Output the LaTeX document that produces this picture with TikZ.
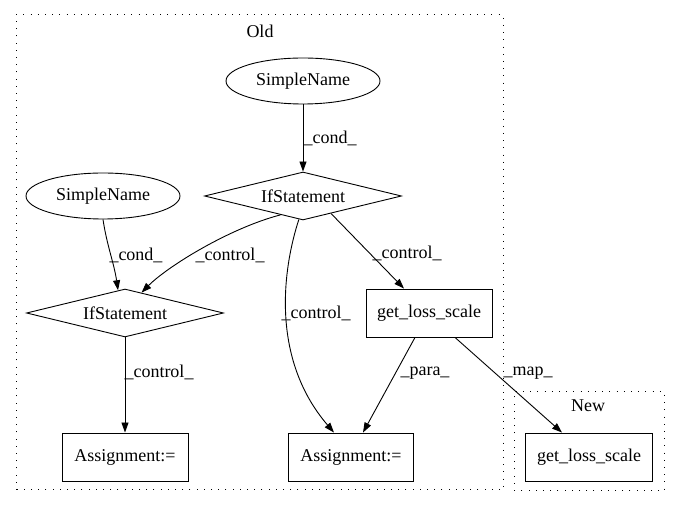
\documentclass[tikz,border=0pt]{standalone}
\usepackage{fontspec}
\setmainfont{Liberation Serif}
\usetikzlibrary{shapes.geometric,arrows.meta,calc}
\tikzset{
  every node/.style={font=\fontsize{18}{20}\selectfont},
  nm/.style={draw,ellipse,line width=0.9pt,minimum width=154pt,minimum height=46pt,inner sep=0pt},
  ifst/.style={draw,diamond,aspect=4.1,line width=0.9pt,minimum width=197pt,minimum height=48pt,inner sep=0pt},
  box/.style={draw,rectangle,line width=0.9pt,minimum height=48pt,inner sep=0pt},
  lbl/.style={inner sep=1pt},
  frame/.style={line width=1pt,dash pattern=on 1pt off 6.2pt},
  edge/.style={line width=0.9pt,-{Triangle[length=10pt,width=7pt]}}
}
\begin{document}
\begin{tikzpicture}[x=1pt,y=1pt]
   \useasboundingbox (0,0) rectangle (680,508);
   \draw[frame] (16,18) rectangle (503,493);
   \draw[frame] (514,17) rectangle (664,116);
   \node (old) at (260,477) {Old};
   \node (new) at (588,102) {New};
   \node[nm] (sn1) at (303,427) {SimpleName};
   \node[ifst] (if1) at (303,312) {IfStatement};
   \node[nm] (sn2) at (103,312) {SimpleName};
   \node[ifst] (if2) at (125,195) {IfStatement};
   \node[box,minimum width=126pt] (as1) at (125,51) {Assignment:=};
   \node[box,minimum width=125pt] (as2) at (351,51) {Assignment:=};
   \node[box,minimum width=126pt] (gls1) at (429,195) {get\_loss\_scale};
   \node[box,minimum width=127pt] (gls2) at (589,51) {get\_loss\_scale};
   \draw[edge] (sn1) -- (if1);
   \draw[edge] (sn2.south) .. controls (107,262) and (114,245) .. (if2.107);
   \draw[edge] (if1.220) .. controls (230,280) and (168,242) .. (if2.51);
   \draw[edge] (if1.260) .. controls (283,240) and (270,150) .. ($(as2.north)+(-17,0)$);
   \draw[edge] (if1.328) -- ($(gls1.north)+(-25,0)$);
   \draw[edge] (if2) -- (as1);
   \draw[edge] ($(gls1.south)+(-14,0)$) -- ($(as2.north)+(12,0)$);
   \draw[edge] ($(gls1.south)+(26,0)$) -- ($(gls2.north)+(-27,0)$);
   \node[lbl] (c1) at (330,370) {\_cond\_};
   \node[lbl] (c2) at (136,253) {\_cond\_};
   \node[lbl] (k1) at (230,253) {\_control\_};
   \node[lbl] (k2) at (316,195) {\_control\_};
   \node[lbl] (k3) at (407,255) {\_control\_};
   \node[lbl] (k4) at (159,136) {\_control\_};
   \node[lbl] (p1) at (425,135) {\_para\_};
   \node[lbl] (m1) at (528,135) {\_map\_};
\end{tikzpicture}
\end{document}
